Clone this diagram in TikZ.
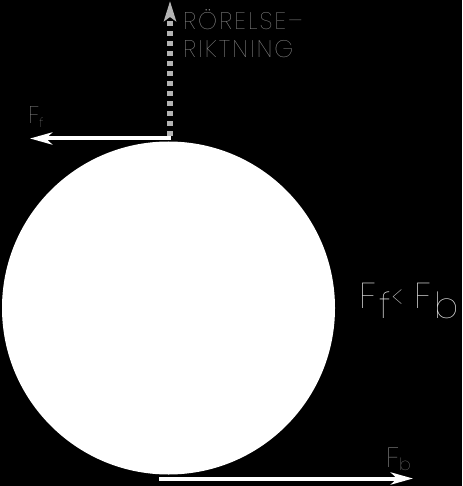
\documentclass[tikz,border=0pt]{standalone}
\usepackage{fontspec}
\setmainfont{Poppins}
\newfontfamily\thinfont{Poppins Thin}
\newfontfamily\thinwide{Poppins Thin}[LetterSpace=9]
\usetikzlibrary{arrows.meta}
\definecolor{labelgray}{HTML}{9A9A9A}
\definecolor{dotgray}{HTML}{B4B4B4}
\definecolor{relgray}{HTML}{E6E6E6}
\tikzset{
  force/.style={white, line width=4pt, -{Stealth[length=22pt,width=12pt,inset=6pt]}},
  motion/.style={dotgray, line width=5.5pt, dash pattern=on 5pt off 5pt,
                 -{Stealth[length=20pt,width=12pt,inset=4pt]}},
  lbl/.style={anchor=base west, inner sep=0pt, font=\thinfont},
}
\begin{document}
\begin{tikzpicture}[x=1pt,y=-1pt]
\fill[black] (0,0) rectangle (462,486);
\useasboundingbox (0,0) rectangle (462,486);
\node[circle, fill=white, minimum size=333pt, inner sep=0pt] (ball) at (168.5,308) {};
\coordinate (topstart) at (171,138.5);
\coordinate (fftip) at (30,138.5);
\coordinate (movestart) at (170,136);
\coordinate (movetip) at (170,1);
\coordinate (botstart) at (159,478.5);
\coordinate (fbtip) at (413,478.5);
\draw[motion] (movestart) -- (movetip);
\draw[force] (topstart) -- (fftip);
\draw[force] (botstart) -- (fbtip);
\node[lbl, text=labelgray, font=\thinwide\fontsize{24}{24}\selectfont] (rorelse) at (183,30) {RÖRELSE–};
\node[lbl, text=labelgray, font=\thinwide\fontsize{24}{24}\selectfont] (riktning) at (183,58) {RIKTNING};
\node[lbl, text=labelgray, font=\thinfont\fontsize{24}{24}\selectfont] (fflabel) at (28,124) {F\raisebox{-4pt}{\fontsize{13}{13}\selectfont f}};
\node[lbl, text=labelgray, font=\thinfont\fontsize{28}{28}\selectfont] (fblabel) at (386,467) {F\raisebox{-3pt}{\fontsize{17}{17}\selectfont b}};
\node[lbl, text=relgray, font=\thinfont\fontsize{36}{36}\selectfont] (relation) at (359,308) {F\hspace{3pt}\raisebox{-10pt}{f}\hspace{1pt}{\fontsize{30}{30}\selectfont <}\hspace{12pt}F\hspace{3pt}\raisebox{-10pt}{b}};
\end{tikzpicture}
\end{document}
